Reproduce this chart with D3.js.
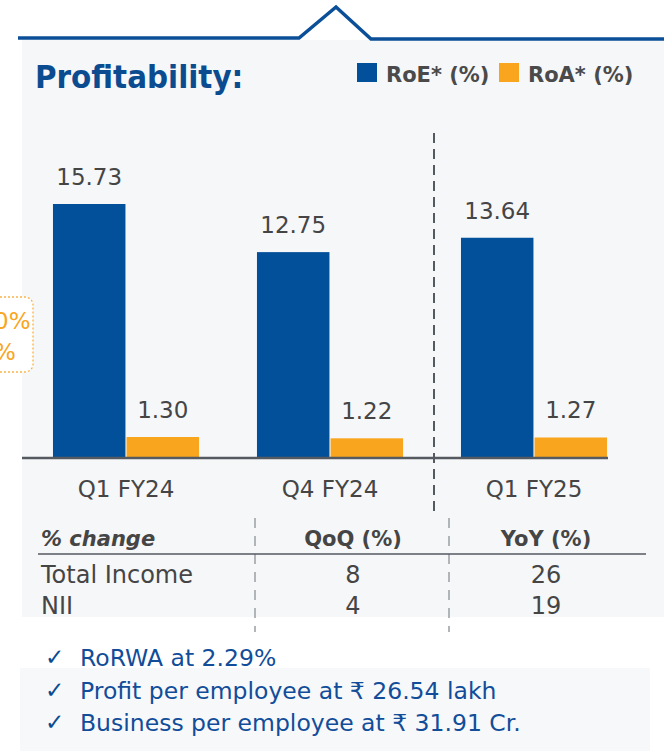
<!DOCTYPE html>
<html>
<head>
<meta charset="utf-8">
<script src="https://cdn.jsdelivr.net/npm/d3@7"></script>
<style>
  body { margin: 0; background: #ffffff; }
  svg { display: block; }
  text { font-family: "DejaVu Sans", sans-serif; }
</style>
</head>
<body>
<div id="vis"></div>
<script>
// chart values
let categories = ["Q1 FY24", "Q4 FY24", "Q1 FY25"];
let series = ["RoE* (%)", "RoA* (%)"];
let roe = [15.73, 12.75, 13.64];
let roa = [1.30, 1.22, 1.27];
let seriesColors = ["#03509a", "#f9a51e"];

// table under the bars
let tableHeader = ["% change", "QoQ (%)", "YoY (%)"];
let tableRows = ["Total Income", "NII"];
let qoq = [8, 4];
let yoy = [26, 19];

let bullets = [
  "RoRWA at 2.29%",
  "Profit per employee at \u20b9 26.54 lakh",
  "Business per employee at \u20b9 31.91 Cr."
];

let width = 664, height = 751;
let baseY = 458;
let textGrey = "#454545";
let blue = "#0b4c91";

let svg = d3.select("#vis").append("svg")
    .attr("width", width)
    .attr("height", height);

// panels
svg.append("rect").attr("x", 22).attr("y", 40).attr("width", 642).attr("height", 577)
   .attr("fill", "#f6f7f9");
svg.append("rect").attr("x", 20).attr("y", 668).attr("width", 630).attr("height", 83)
   .attr("fill", "#f7f8fa");

// top line with the notch
svg.append("path")
   .attr("d", "M18,38 L299,38 L336,7 L371,39 L664,39")
   .attr("fill", "none")
   .attr("stroke", "#0a4f97")
   .attr("stroke-width", 3.5);

// clipped box on the left
svg.append("rect").attr("x", -20).attr("y", 297).attr("width", 53).attr("height", 75)
   .attr("rx", 8).attr("fill", "#ffffff")
   .attr("stroke", "#f9b445").attr("stroke-width", 1.3).attr("stroke-dasharray", "2,2");
svg.append("text").attr("x", -6).attr("y", 329).attr("font-size", 23).attr("fill", "#f9a51e").text("0%");
svg.append("text").attr("x", -6).attr("y", 360).attr("font-size", 23).attr("fill", "#f9a51e").text("%");

// title (squeezed a bit to match the narrow original face)
svg.append("text")
   .attr("transform", "translate(35,88) scale(0.92,1)")
   .attr("font-size", 32).attr("font-weight", "bold")
   .attr("fill", blue)
   .text("Profitability:");

// legend
let legendX = [357, 499];
let legend = svg.append("g").attr("class", "legend");
legend.selectAll("rect")
  .data(series)
  .join("rect")
  .attr("x", (d, i) => legendX[i])
  .attr("y", 63)
  .attr("width", 20).attr("height", 19)
  .attr("fill", (d, i) => seriesColors[i]);
legend.selectAll("text")
  .data(series)
  .join("text")
  .attr("x", (d, i) => legendX[i] + 29)
  .attr("y", 82)
  .attr("font-size", 21).attr("font-weight", "bold")
  .attr("fill", "#4a4a4a")
  .text(d => d);

// scales
let x0 = d3.scaleBand()
    .domain(categories)
    .range([24, 636]);

let bw = x0.bandwidth();
let x1 = d3.scaleBand()
    .domain(series)
    .range([bw * 0.142, bw * 0.858])
    .paddingInner(0.015);

let y = d3.scaleLinear()
    .domain([0, 15.73])
    .range([baseY, 204]);

let data = categories.map((c, i) => ({cat: c, values: [roe[i], roa[i]]}));

let groups = svg.append("g").attr("class", "bars")
  .selectAll("g")
  .data(data)
  .join("g")
  .attr("transform", d => "translate(" + x0(d.cat) + ",0)");

groups.selectAll("rect")
  .data(d => d.values.map((v, j) => ({s: series[j], v: v, j: j})))
  .join("rect")
  .attr("x", d => x1(d.s))
  .attr("y", d => y(d.v))
  .attr("width", x1.bandwidth())
  .attr("height", d => baseY - y(d.v))
  .attr("fill", d => seriesColors[d.j]);

groups.selectAll("text")
  .data(d => d.values.map((v, j) => ({s: series[j], v: v, j: j})))
  .join("text")
  .attr("x", d => x1(d.s) + x1.bandwidth() / 2)
  .attr("y", d => y(d.v) - 19)
  .attr("text-anchor", "middle")
  .attr("font-size", 23)
  .attr("fill", textGrey)
  .text(d => d.v.toFixed(2));

// baseline
svg.append("line")
   .attr("x1", 22).attr("x2", 608)
   .attr("y1", baseY).attr("y2", baseY)
   .attr("stroke", "#555a60").attr("stroke-width", 2.5);

// category axis
let xAxis = d3.axisBottom(x0).tickSize(0).tickPadding(0);
svg.append("g")
   .attr("transform", "translate(0," + 481 + ")")
   .call(xAxis)
   .call(g => g.select(".domain").remove())
   .call(g => g.selectAll("text")
       .attr("dy", "0.71em")
       .attr("font-size", 23)
       .attr("font-family", "DejaVu Sans")
       .attr("fill", textGrey));

// dashed separators
svg.append("line")
   .attr("x1", 434).attr("x2", 434).attr("y1", 133).attr("y2", 516)
   .attr("stroke", "#555a60").attr("stroke-width", 2).attr("stroke-dasharray", "10,6");

let colX = [41, 353, 546];
let sepX = [255, 449];
svg.selectAll(".sep")
  .data(sepX)
  .join("line")
  .attr("class", "sep")
  .attr("x1", d => d).attr("x2", d => d)
  .attr("y1", 518).attr("y2", 632)
  .attr("stroke", "#9a9ea3").attr("stroke-width", 1.5).attr("stroke-dasharray", "10,8");

// table header
svg.selectAll(".hdr")
  .data(tableHeader)
  .join("text")
  .attr("class", "hdr")
  .attr("x", (d, i) => colX[i])
  .attr("y", 546)
  .attr("text-anchor", (d, i) => i == 0 ? "start" : "middle")
  .attr("font-size", 21)
  .attr("font-weight", "bold")
  .attr("font-style", (d, i) => i == 0 ? "italic" : "normal")
  .attr("fill", textGrey)
  .text(d => d);

svg.append("line")
   .attr("x1", 38).attr("x2", 646).attr("y1", 554).attr("y2", 554)
   .attr("stroke", "#555a60").attr("stroke-width", 1.5);

// table rows
let rowY = [583, 614];
tableRows.forEach((r, i) => {
  let cells = [r, qoq[i], yoy[i]];
  svg.selectAll(".row" + i)
    .data(cells)
    .join("text")
    .attr("class", "row" + i)
    .attr("x", (d, j) => colX[j])
    .attr("y", rowY[i])
    .attr("text-anchor", (d, j) => j == 0 ? "start" : "middle")
    .attr("font-size", 24)
    .attr("fill", textGrey)
    .text(d => d);
});

// bullets
let bulletY = [666, 699, 731];
let bl = svg.append("g").attr("class", "bullets");
bl.selectAll("text.tick")
  .data(bullets)
  .join("text")
  .attr("class", "tick")
  .attr("x", 45)
  .attr("y", (d, i) => bulletY[i] - 1)
  .attr("font-size", 23)
  .attr("fill", blue)
  .text("\u2713");
bl.selectAll("text.item")
  .data(bullets)
  .join("text")
  .attr("class", "item")
  .attr("x", 80)
  .attr("y", (d, i) => bulletY[i])
  .attr("font-size", 23.5)
  .attr("fill", "#114d99")
  .text(d => d);
</script>
</body>
</html>
